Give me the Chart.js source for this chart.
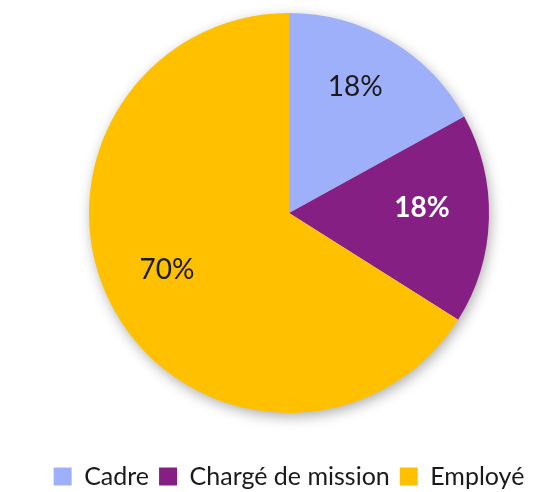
<!DOCTYPE html>
<html>
<head>
<meta charset="utf-8">
<script src="https://cdn.jsdelivr.net/npm/chart.js@4"></script>
<style>
  html, body { margin: 0; padding: 0; background: #fff; }
  #wrap { width: 546px; height: 492px; }
</style>
</head>
<body>
<div id="wrap"><canvas id="myChart" width="546" height="492"></canvas></div>
<script>
const labels = ['Cadre', 'Chargé de mission', 'Employé'];
const values = [18, 18, 70];
const valueLabels = ['18%', '18%', '70%'];
const colors = ['#9eb0fa', '#861f83', '#ffc000'];
const labelColors = ['#1a1a1a', '#ffffff', '#1a1a1a'];

// soft shadow under the whole pie
const shadowPlugin = {
  id: 'pieShadow',
  beforeDatasetsDraw(chart) {
    const arc = chart.getDatasetMeta(0).data[0];
    if (!arc) return;
    const ctx = chart.ctx;
    ctx.save();
    ctx.shadowColor = 'rgba(0,0,0,0.35)';
    ctx.shadowBlur = 14;
    ctx.shadowOffsetX = 2;
    ctx.shadowOffsetY = 4;
    ctx.fillStyle = '#ffffff';
    ctx.beginPath();
    ctx.arc(arc.x, arc.y, arc.outerRadius - 1, 0, Math.PI * 2);
    ctx.fill();
    ctx.restore();
  }
};

// percentage labels inside slices
const valuePlugin = {
  id: 'valueLabels',
  afterDatasetsDraw(chart) {
    const ctx = chart.ctx;
    chart.getDatasetMeta(0).data.forEach(function(arc, i) {
      const mid = (arc.startAngle + arc.endAngle) / 2;
      const r = arc.outerRadius * 0.68;
      ctx.save();
      ctx.fillStyle = labelColors[i];
      ctx.font = (i === 1 ? 'bold ' : '') + '28px Lato, sans-serif';
      ctx.textAlign = 'center';
      ctx.textBaseline = 'middle';
      ctx.fillText(valueLabels[i], arc.x + Math.cos(mid) * r - 3, arc.y + Math.sin(mid) * r - 9);
      ctx.restore();
    });
  }
};

const data = {
  labels: labels,
  datasets: [{
    data: values,
    backgroundColor: colors,
    borderWidth: 0
  }]
};

const config = {
  type: 'pie',
  data: data,
  plugins: [shadowPlugin, valuePlugin],
  options: {
    responsive: false,
    animation: false,
    layout: { padding: { top: 13, left: 32, right: 0, bottom: 0 } },
    plugins: {
      tooltip: { enabled: false },
      legend: {
        position: 'bottom',
        maxHeight: 79,
        title: { display: true, text: '', font: { size: 41, lineHeight: 1 }, padding: 0 },
        labels: {
          boxWidth: 18,
          boxHeight: 18,
          padding: 10,
          color: '#1a1a1a',
          font: { size: 25, family: 'Lato, sans-serif' }
        }
      }
    }
  }
};

Promise.all([
  document.fonts.load('25px Lato'),
  document.fonts.load('bold 28px Lato')
]).catch(function() {}).then(function() {
  new Chart(document.getElementById('myChart'), config);
});
</script>
</body>
</html>
